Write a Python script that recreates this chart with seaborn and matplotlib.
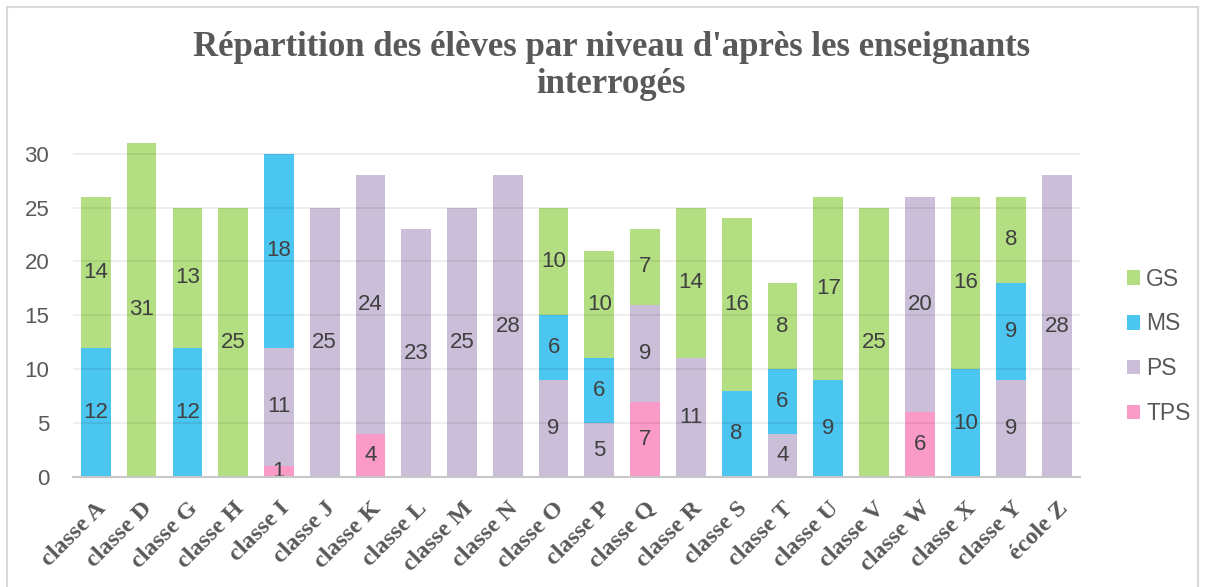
"""
Stacked bar chart: pupils per level (TPS / PS / MS / GS) for each surveyed class.
"""

import matplotlib
matplotlib.use("Agg")
import matplotlib.pyplot as plt
from matplotlib.patches import Patch, Rectangle
import numpy as np
import pandas as pd
import seaborn as sns

# --- data ---
classes = ["classe A", "classe D", "classe G", "classe H", "classe I", "classe J",
           "classe K", "classe L", "classe M", "classe N", "classe O", "classe P",
           "classe Q", "classe R", "classe S", "classe T", "classe U", "classe V",
           "classe W", "classe X", "classe Y", "école Z"]
tps = [0, 0, 0, 0, 1, 0, 4, 0, 0, 0, 0, 0, 7, 0, 0, 0, 0, 0, 6, 0, 0, 0]
ps = [0, 0, 0, 0, 11, 25, 24, 23, 25, 28, 9, 5, 9, 11, 0, 4, 0, 0, 20, 0, 9, 28]
ms = [12, 0, 12, 0, 18, 0, 0, 0, 0, 0, 6, 6, 0, 0, 8, 6, 9, 0, 0, 10, 9, 0]
gs = [14, 31, 13, 25, 0, 0, 0, 0, 0, 0, 10, 10, 7, 14, 16, 8, 17, 25, 0, 16, 8, 0]

levels = ["TPS", "PS", "MS", "GS"]
colors = {"GS": "#B3DF82", "MS": "#4BC6F0", "PS": "#CABED8", "TPS": "#F99BC6"}

df = pd.DataFrame({"classe": classes, "TPS": tps, "PS": ps, "MS": ms, "GS": gs})
# cumulative tops of each layer (bottom to top: TPS, PS, MS, GS)
cum = df[levels].cumsum(axis=1)

sns.set_style("white")
plt.rcParams["font.family"] = ["Liberation Sans", "DejaVu Sans"]

fig = plt.figure(figsize=(12.06, 5.87), dpi=100)
ax = fig.add_axes([0.0605, 0.1874, 0.835, 0.5876])

# draw from the tallest cumulative layer down so each layer hides the one above
for lvl in reversed(levels):
    sns.barplot(x=df["classe"], y=cum[lvl], color=colors[lvl], width=0.65,
                saturation=1, ax=ax, zorder=2, edgecolor="none", linewidth=0)

# gridlines show faintly through the bars in the original
for yv in range(5, 31, 5):
    ax.axhline(yv, color="#000000", alpha=0.075, linewidth=1.3, zorder=2.5)

# value labels in the middle of each segment
for i in range(len(df)):
    base = 0
    for lvl in levels:
        v = df.loc[i, lvl]
        if v > 0:
            ax.text(i, base + v / 2, str(v), ha="center", va="center",
                    fontsize=16, color="#404040", zorder=3)
        base += v

ax.set_xlim(-0.5, len(classes) - 0.5)
ax.set_ylim(0, 32)
ax.set_yticks(range(0, 31, 5))
ax.set_xlabel("")
ax.set_ylabel("")
for s in ["top", "right", "left"]:
    ax.spines[s].set_visible(False)
ax.spines["bottom"].set_color("#C8C8C8")
ax.spines["bottom"].set_linewidth(1.5)
ax.spines["bottom"].set_zorder(3)
ax.tick_params(axis="y", length=0, labelsize=16, labelcolor="#595959", pad=17)
ax.tick_params(axis="x", length=0, pad=15)
ax.set_xticks(range(len(classes)))
ax.set_xticklabels(classes, rotation=45, ha="right", rotation_mode="anchor",
                   fontsize=17.5, fontweight="bold", color="#595959",
                   family="Liberation Serif")

fig.suptitle("Répartition des élèves par niveau d'après les enseignants\ninterrogés",
             x=0.507, y=0.947, fontsize=25, fontweight="bold", color="#595959",
             family="Liberation Serif", linespacing=1.15)

handles = [Patch(facecolor=colors[l], edgecolor="none", label=l) for l in reversed(levels)]
fig.legend(handles=handles, loc="center left", bbox_to_anchor=(0.917, 0.41),
           frameon=False, fontsize=16.5, labelcolor="#595959", handlelength=0.6,
           handleheight=0.6, handletextpad=0.25, labelspacing=0.95)

# light outer frame of the chart area
fig.patches.append(Rectangle((7 / 1206, -0.05), 1191 / 1206, 1.05 - 7 / 587,
                             transform=fig.transFigure, fill=False,
                             edgecolor="#D9D9D9", linewidth=1.5))

fig.savefig("out.png", dpi=100)
